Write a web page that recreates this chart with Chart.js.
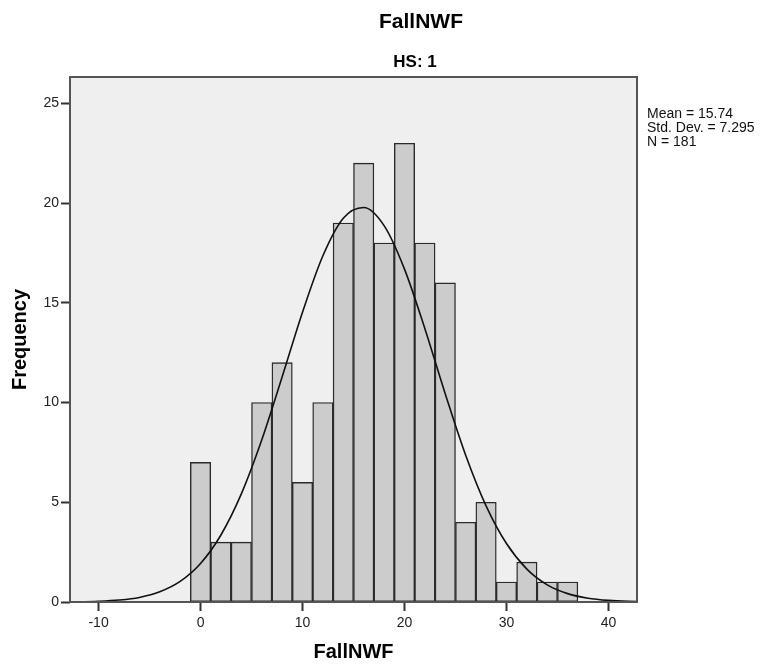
<!DOCTYPE html>
<html>
<head>
<meta charset="utf-8">
<script src="https://cdn.jsdelivr.net/npm/chart.js@4.4.0/dist/chart.umd.min.js"></script>
<style>
  html, body { margin: 0; padding: 0; background: #fff; }
</style>
</head>
<body>
<canvas id="histChart" width="762" height="664"></canvas>
<script>
// histogram bins (width 2)
const binCenters = [0, 2, 4, 6, 8, 10, 12, 14, 16, 18, 20, 22, 24, 26, 28, 30, 32, 34, 36];
const frequencies = [7, 3, 3, 10, 12, 6, 10, 19, 22, 18, 23, 18, 16, 4, 5, 1, 2, 1, 1];

// normal curve heights
const curveX = [-14, -12, -10, -8, -6, -4, -2, 0, 2, 4, 6, 8, 10, 12, 14, 16, 18, 20, 22, 24, 26, 28, 30, 32, 34, 36, 38, 40, 42, 44];
const curveY = [0.005, 0.014, 0.04, 0.1, 0.23, 0.51, 1.03, 1.93, 3.36, 5.42, 8.12, 11.28, 14.53, 17.36, 19.24, 19.78, 18.87, 16.69, 13.7, 10.43, 7.36, 4.82, 2.93, 1.65, 0.86, 0.42, 0.19, 0.08, 0.03, 0.01];

const xTicks = [-10, 0, 10, 20, 30, 40];
const yTicks = [0, 5, 10, 15, 20, 25];

const chartTitle = 'FallNWF';
const chartSubtitle = 'HS: 1';
const statsLines = ['Mean = 15.74', 'Std. Dev. = 7.295', 'N = 181'];

const FONT = 'Arial, "Liberation Sans", sans-serif';

const decor = {
  id: 'decor',
  beforeDraw(chart) {
    const { ctx, chartArea: a } = chart;
    ctx.save();
    ctx.fillStyle = '#efefef';
    ctx.fillRect(a.left, a.top, a.right - a.left, a.bottom - a.top);
    ctx.restore();
  },
  afterDatasetsDraw(chart) {
    const { ctx, chartArea: a } = chart;
    ctx.save();
    ctx.strokeStyle = '#555';
    ctx.lineWidth = 2;
    ctx.strokeRect(a.left, a.top, a.right - a.left, a.bottom - a.top);

    ctx.fillStyle = '#000';
    ctx.textAlign = 'center';
    ctx.textBaseline = 'middle';
    ctx.font = 'bold 21px ' + FONT;
    ctx.fillText(chartTitle, 421, 22);
    ctx.font = 'bold 17px ' + FONT;
    ctx.fillText(chartSubtitle, 415, 62);

    ctx.textAlign = 'left';
    ctx.textBaseline = 'alphabetic';
    ctx.font = '14px ' + FONT;
    ctx.fillStyle = '#111';
    statsLines.forEach((t, i) => ctx.fillText(t, 647, 118 + i * 14));
    ctx.restore();
  }
};

const ctx = document.getElementById('histChart').getContext('2d');
const histChart = new Chart(ctx, {
  type: 'bar',
  data: {
    datasets: [{
      type: 'line',
      data: curveX.map((x, i) => ({ x: x, y: curveY[i] })),
      borderColor: '#111',
      borderWidth: 1.6,
      pointRadius: 0,
      fill: false,
      cubicInterpolationMode: 'monotone',
      order: 0
    }, {
      type: 'bar',
      data: binCenters.map((x, i) => ({ x: x, y: frequencies[i] })),
      backgroundColor: '#cccccc',
      borderColor: '#2a2a2a',
      borderWidth: 1.4,
      borderSkipped: false,
      categoryPercentage: 1,
      barPercentage: 1,
      order: 1
    }]
  },
  options: {
    responsive: false,
    animation: false,
    devicePixelRatio: 1,
    layout: { padding: { top: 77, right: 125, left: 0, bottom: 0 } },
    plugins: {
      legend: { display: false },
      title: { display: false },
      tooltip: { enabled: false }
    },
    scales: {
      x: {
        type: 'linear',
        min: -12.8,
        max: 42.8,
        offset: false,
        afterBuildTicks: s => { s.ticks = xTicks.map(v => ({ value: v })); },
        afterFit: s => { s.height = 62; },
        grid: { offset: false, drawOnChartArea: false, tickLength: 9, tickColor: '#333', tickWidth: 2 },
        border: { display: false },
        ticks: { padding: 4, color: '#222', font: { family: FONT, size: 14 }, maxRotation: 0 },
        title: { display: true, text: 'FallNWF', color: '#000', font: { family: FONT, size: 20, weight: 'bold' }, padding: { top: 0, bottom: 0 } }
      },
      y: {
        min: 0,
        max: 26.32,
        afterBuildTicks: s => { s.ticks = yTicks.map(v => ({ value: v })); },
        afterFit: s => { s.width = 70; },
        grid: { drawOnChartArea: false, tickLength: 9, tickColor: '#333', tickWidth: 2 },
        border: { display: false },
        ticks: { padding: 2, color: '#222', font: { family: FONT, size: 14 } },
        title: { display: true, text: 'Frequency', color: '#000', font: { family: FONT, size: 20, weight: 'bold' }, padding: { top: 8, bottom: 0 } }
      }
    }
  },
  plugins: [decor]
});
</script>
</body>
</html>
